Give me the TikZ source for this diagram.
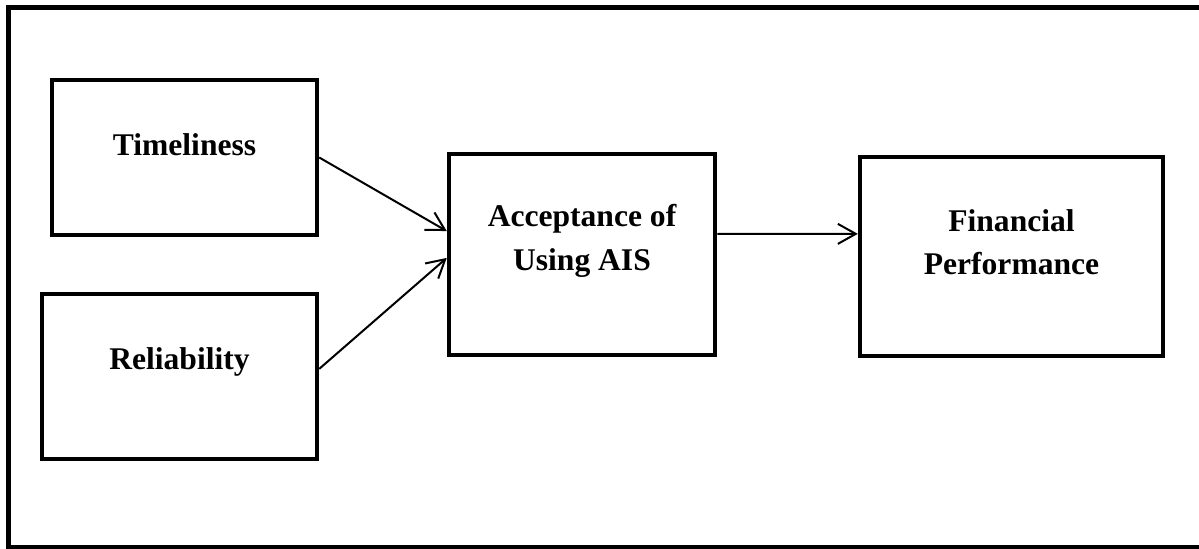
\documentclass[tikz,border=0pt]{standalone}
\usepackage{fontspec}
\setmainfont{Liberation Serif}
\usetikzlibrary{positioning,arrows.meta}

\begin{document}
\begin{tikzpicture}[
    x=0.38pt,y=-0.38pt,
    font=\fontsize{12}{16.5}\selectfont\bfseries,
    blk/.style={draw,line width=1.7pt,inner sep=0pt},
    lbl/.style={align=center,inner sep=1pt},
    frm/.style={draw,line width=1.9pt},
    arr/.style={line width=0.76pt,-{Straight Barb[length=6.8pt,width=7.6pt]}},
    ]
    \useasboundingbox (0,0) rectangle (1199,549);
    \clip (0,0) rectangle (1199,549);
    \draw[frm] (8.5,8) rectangle (1203,547.5);

    \node[blk,minimum width=100.7pt,minimum height=58.9pt] (tim) at (184.5,157.5) {};
    \node[blk,minimum width=104.5pt,minimum height=62.7pt] (rel) at (179.5,376.5) {};
    \node[blk,minimum width=101.1pt,minimum height=76.4pt] (acc) at (582,254.5) {};
    \node[blk,minimum width=115.1pt,minimum height=75.6pt] (fin) at (1011.5,256.5) {};

    \node[lbl] (tim-t) at ([yshift=4.9pt]tim.center) {Timeliness};
    \node[lbl] (rel-t) at ([yshift=5.5pt]rel.center) {Reliability};
    \node[lbl] (acc-t) at ([yshift=5.1pt]acc.center) {Acceptance of\\Using AIS};
    \node[lbl] (fin-t) at ([yshift=5.5pt]fin.center) {Financial\\Performance};

    \draw[arr] (tim.east) -- ([yshift=8.9pt]acc.west);
    \draw[arr] ([yshift=2.9pt]rel.east) -- ([yshift=-1.3pt]acc.west);
    \draw[arr] ([yshift=7.8pt]acc.east) -- ([yshift=8.6pt]fin.west);
\end{tikzpicture}
\end{document}
